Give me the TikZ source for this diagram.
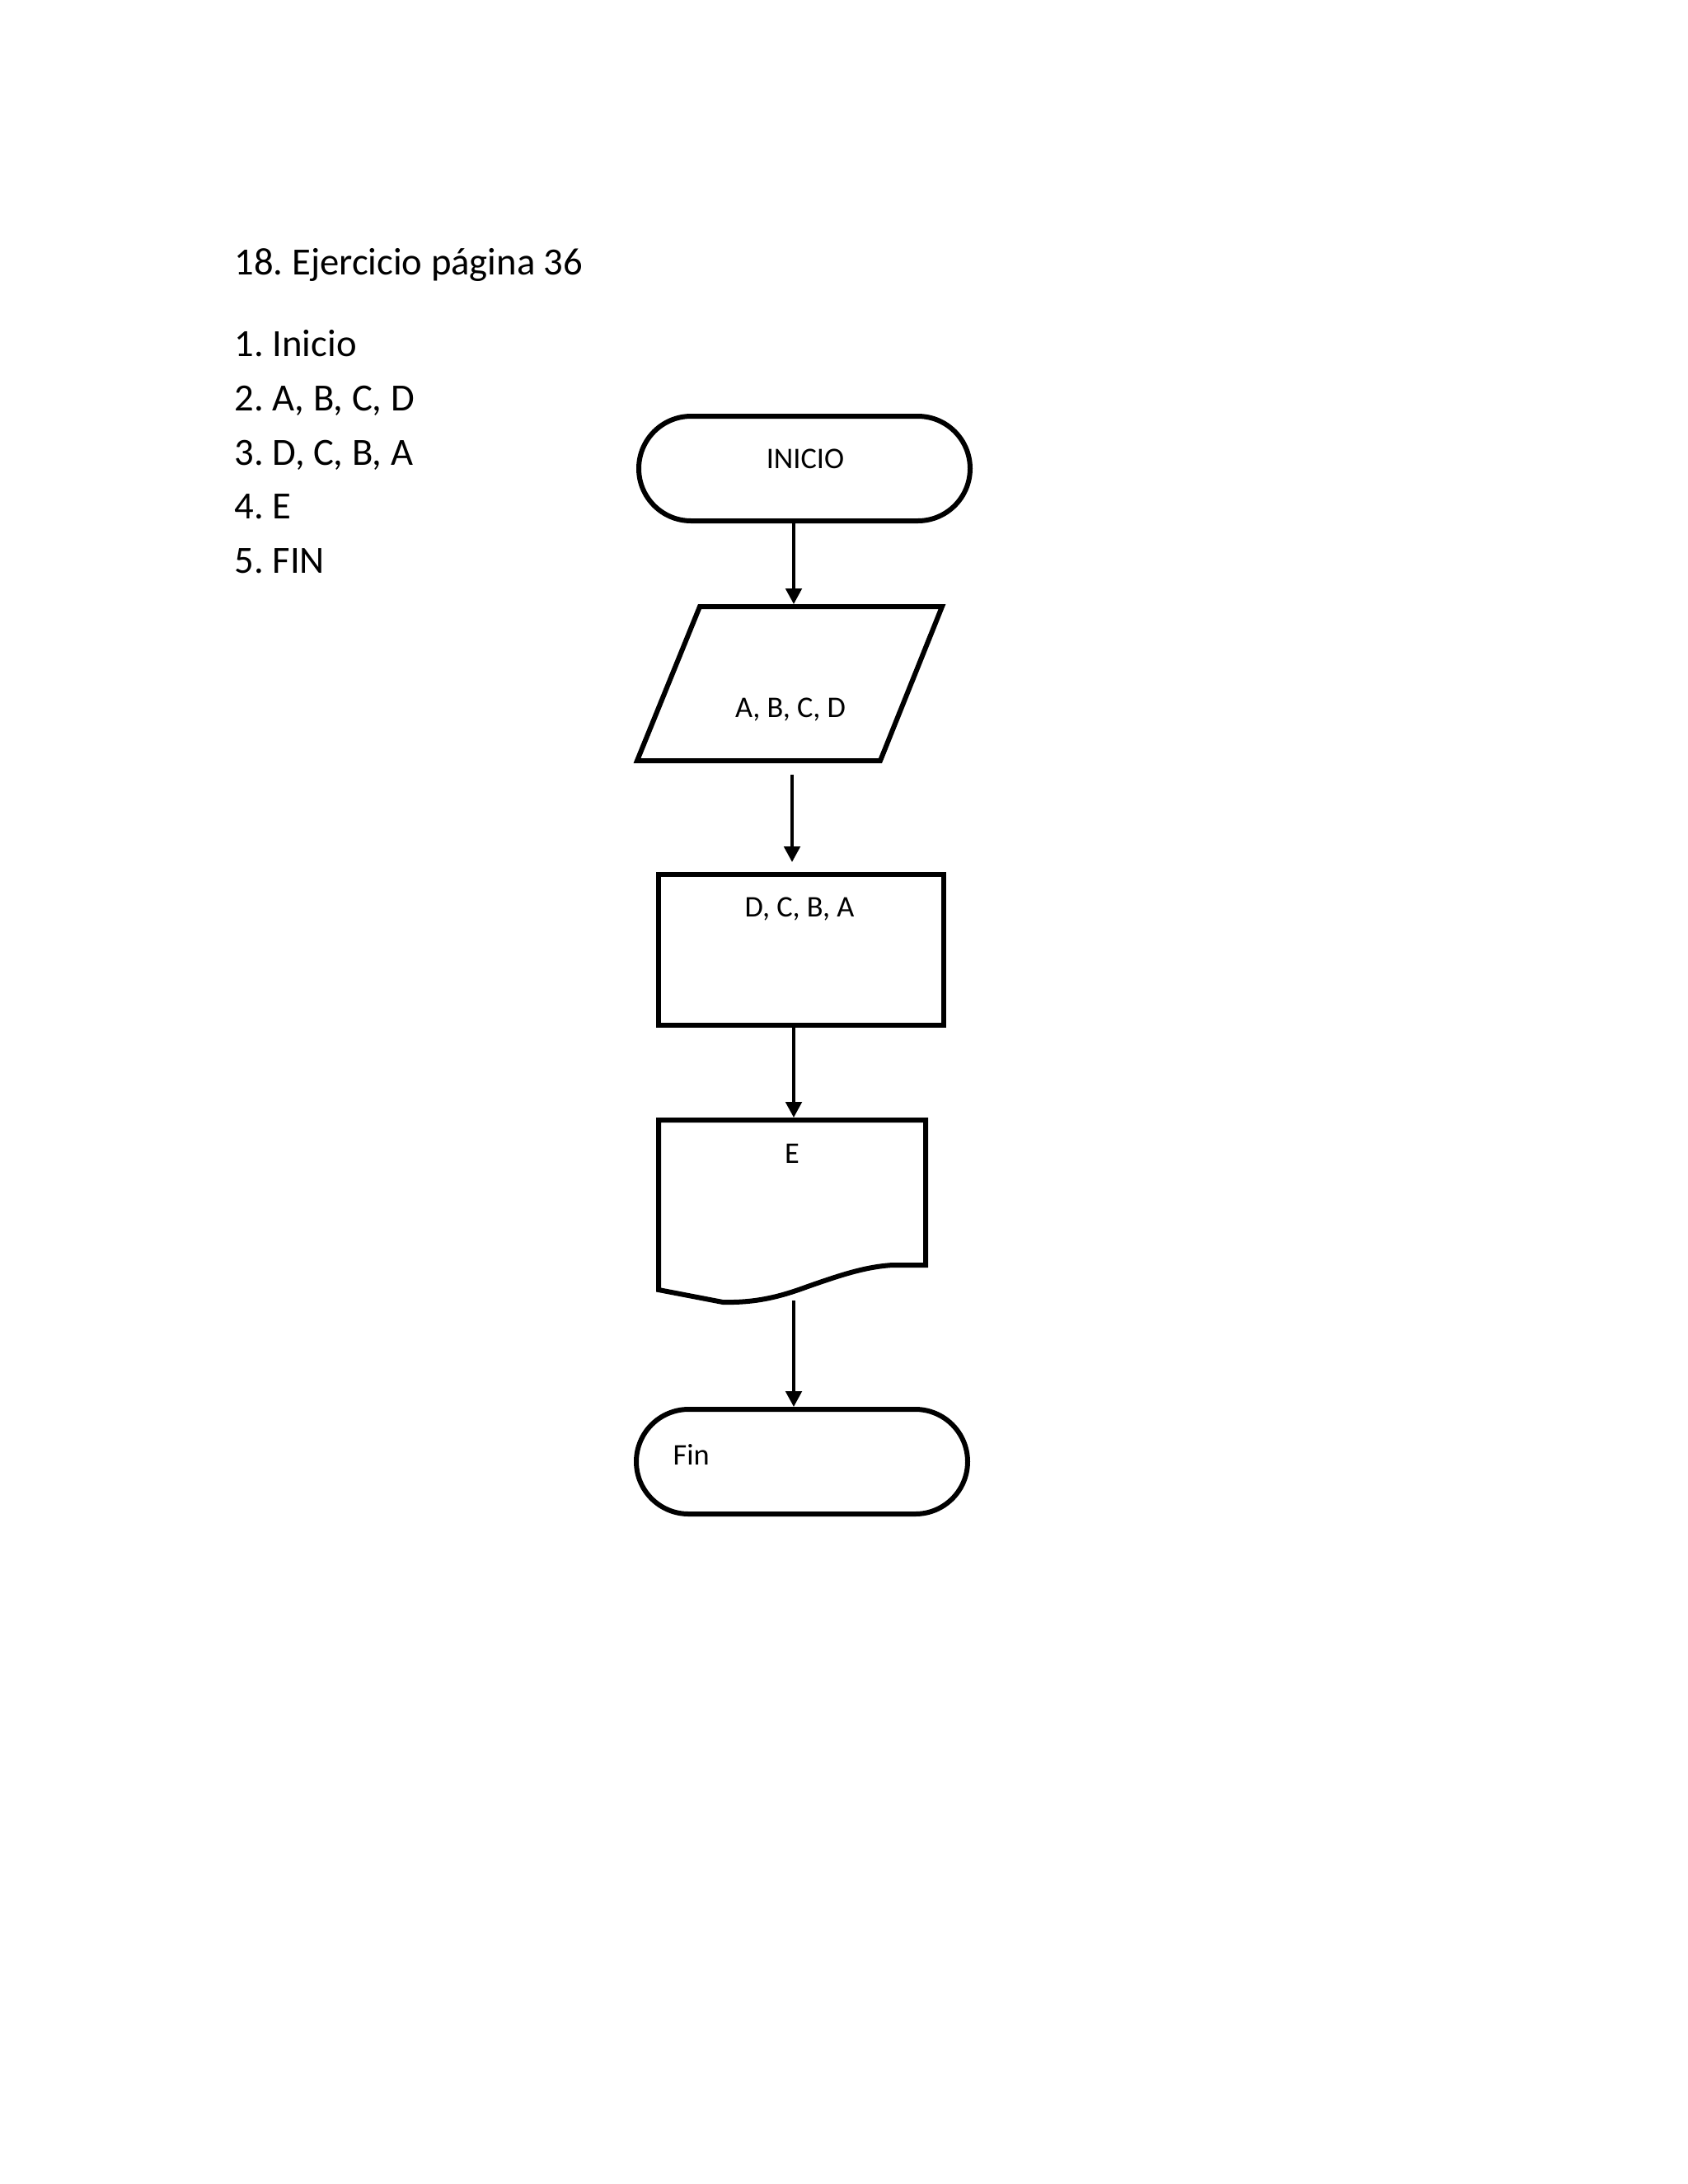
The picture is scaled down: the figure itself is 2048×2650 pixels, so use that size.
\documentclass[tikz,border=0pt]{standalone}
\usepackage{fontspec}
\setmainfont{Carlito}
\usetikzlibrary{arrows.meta,shapes.misc}
\frenchspacing
\begin{document}
\begin{tikzpicture}[x=0.3pt,y=-0.3pt,
  shapeline/.style={draw=black,line width=1.8pt,line join=miter},
  terminal/.style={shapeline,rounded rectangle,inner sep=0pt,minimum width=120.6pt,minimum height=38.1pt},
  procbox/.style={shapeline,rectangle,inner sep=0pt,minimum width=103.8pt,minimum height=54.9pt},
  flow/.style={-{Triangle[width=5.8pt,length=5.7pt]},line width=1.2pt},
  listtxt/.style={anchor=base west,inner sep=0pt,font=\frenchspacing\fontsize{14}{17}\selectfont},
  lbl/.style={anchor=base,inner sep=0pt,font=\frenchspacing\fontsize{10.9}{13}\selectfont},
  lblw/.style={anchor=base west,inner sep=0pt,font=\fontsize{10.9}{13}\selectfont}]
\useasboundingbox (0,0) rectangle (2048,2650);

% list text
\node[listtxt] (title) at (284,333) {18. Ejercicio página 36};
\node[listtxt] (l1) at (284,432.7) {1. Inicio};
\node[listtxt] (l2) at (284,498.3) {2. A, B, C, D};
\node[listtxt] (l3) at (284,564) {3. D, C, B, A};
\node[listtxt] (l4) at (284,629.3) {4. E};
\node[listtxt] (l5) at (284,695) {5. FIN};

% INICIO terminal
\node[terminal] (inicio) at (976,568.5) {};
\node[lbl] (tinicio) at (977,568) {INICIO};

% input parallelogram
\draw[shapeline] (773,923) -- (849,736) -- (1143,736) -- (1068,923) -- cycle;
\node[lbl] (tin) at (959,870) {A, B, C, D};
\coordinate (inTop) at (963,733);
\coordinate (inOut) at (961,940);

% process box
\node[procbox] (proc) at (972,1152.5) {};
\node[lbl] (tproc) at (970,1112) {D, C, B, A};
\coordinate (procIn) at (961,1046);

% document
\draw[shapeline] (799,1359) -- (799,1565) -- (877,1580)
  .. controls (920,1581) and (950,1572) .. (980,1561)
  .. controls (1020,1547) and (1050,1537) .. (1083,1535)
  -- (1123,1535) -- (1123,1359) -- cycle;
\node[lbl] (tdoc) at (961,1411.7) {E};
\coordinate (docTop) at (963,1356);
\coordinate (docOut) at (963,1578);

% Fin terminal
\node[terminal] (fin) at (973,1773.5) {};
\node[lblw] (tfin) at (816,1777) {Fin};
\coordinate (finIn) at (963,1707);

% connectors
\draw[flow] (inicio.south -| inTop) -- (inTop);
\draw[flow] (inOut) -- (procIn);
\draw[flow] (proc.south -| docTop) -- (docTop);
\draw[flow] (docOut) -- (finIn);
\end{tikzpicture}
\end{document}
